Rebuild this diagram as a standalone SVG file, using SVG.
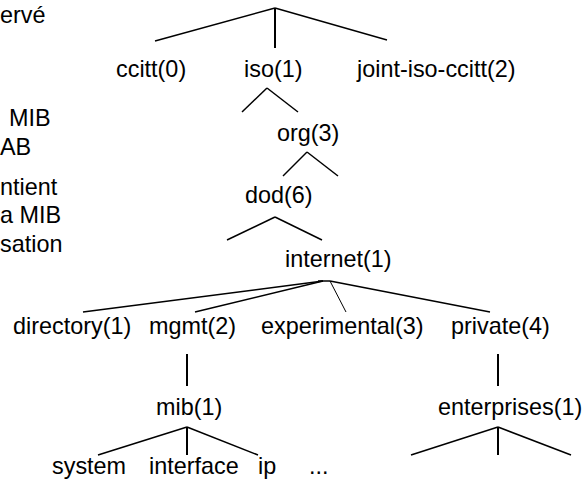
<svg xmlns="http://www.w3.org/2000/svg" width="587" height="481" viewBox="0 0 587 481">
<style>
text{font-family:"Liberation Sans",Arial,Helvetica,sans-serif;font-size:23.4px;fill:#000}
.c line{stroke:#000;stroke-width:1.5;stroke-linecap:butt}
.c line.v{stroke-width:2}
.c line.thin{stroke-width:1}
</style>
<rect width="587" height="481" fill="#fff"/>
<g id="sidetext">
<text x="0" y="23">ervé</text>
<text x="9" y="126">MIB</text>
<text x="0" y="155">AB</text>
<text x="0" y="195">ntient</text>
<text x="0" y="223">a MIB</text>
<text x="0" y="252">sation</text>
</g>
<g class="c" id="connectors">
<line x1="275" y1="8" x2="155" y2="41"/>
<line class="v" x1="275" y1="8" x2="275" y2="48"/>
<line x1="275" y1="8" x2="387" y2="40"/>
<line x1="267" y1="88" x2="242" y2="112"/>
<line x1="267" y1="88" x2="298" y2="112"/>
<line x1="307" y1="152" x2="283" y2="176"/>
<line x1="307" y1="152" x2="338" y2="176"/>
<line x1="275" y1="217" x2="227" y2="240"/>
<line x1="275" y1="217" x2="322" y2="240"/>
<line x1="323" y1="281" x2="83" y2="312"/>
<line x1="323" y1="281" x2="195" y2="312"/>
<line class="thin" x1="330" y1="281" x2="346" y2="312"/>
<line x1="318" y1="281" x2="330" y2="281"/>
<line x1="330" y1="281" x2="490" y2="312"/>
<line class="v" x1="187" y1="354" x2="187" y2="386"/>
<line class="v" x1="498" y1="354" x2="498" y2="386"/>
<line x1="187" y1="427" x2="98" y2="455"/>
<line class="v" x1="187" y1="427" x2="187" y2="455"/>
<line x1="187" y1="427" x2="258" y2="455"/>
<line x1="498" y1="427" x2="411" y2="455"/>
<line class="v" x1="498" y1="427" x2="498" y2="455"/>
<line x1="498" y1="427" x2="571" y2="455"/>
</g>
<g id="ccitt"><text x="116" y="77">ccitt(0)</text></g>
<g id="iso"><text x="244" y="77">iso(1)</text></g>
<g id="joint"><text x="357" y="77">joint-iso-ccitt(2)</text></g>
<g id="org"><text x="277" y="141">org(3)</text></g>
<g id="dod"><text x="245" y="203">dod(6)</text></g>
<g id="internet"><text x="285" y="267">internet(1)</text></g>
<g id="directory"><text x="13" y="334">directory(1)</text></g>
<g id="mgmt"><text x="149" y="334">mgmt(2)</text></g>
<g id="experimental"><text x="261" y="334">experimental(3)</text></g>
<g id="private"><text x="451" y="334">private(4)</text></g>
<g id="mib"><text x="156" y="415">mib(1)</text></g>
<g id="enterprises"><text x="438" y="415">enterprises(1)</text></g>
<g id="system"><text x="52" y="474">system</text></g>
<g id="interface"><text x="149" y="474">interface</text></g>
<g id="ip"><text x="258" y="474">ip</text></g>
<g id="more"><text x="309" y="474">...</text></g>
</svg>
